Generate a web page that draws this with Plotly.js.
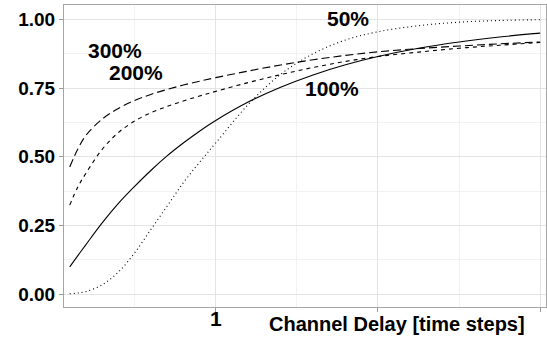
<!DOCTYPE html>
<html>
<head>
<meta charset="utf-8">
<script src="https://cdn.plot.ly/plotly-3.0.1.min.js"></script>
<style>html,body{margin:0;padding:0;background:#fff;}#chart{width:547px;height:341px;}</style>
</head>
<body>
<div id="chart"></div>
<script>
// Channel delay (time steps)
var delay = [0.1, 0.15, 0.2, 0.3, 0.4, 0.5, 0.6, 0.7, 0.8, 0.9, 1.0, 1.2, 1.4, 1.6, 1.8, 2.0, 2.25, 2.5, 2.75, 3.0];
// cumulative probability per delay variability level
var cv300 = [0.463, 0.528, 0.578, 0.637, 0.676, 0.705, 0.727, 0.745, 0.761, 0.775, 0.788, 0.812, 0.834, 0.853, 0.869, 0.882, 0.894, 0.903, 0.911, 0.918];
var cv200 = [0.324, 0.390, 0.440, 0.527, 0.588, 0.630, 0.660, 0.683, 0.703, 0.721, 0.738, 0.770, 0.799, 0.825, 0.847, 0.865, 0.881, 0.895, 0.906, 0.916];
var cv100 = [0.099, 0.140, 0.180, 0.259, 0.330, 0.392, 0.450, 0.503, 0.550, 0.593, 0.632, 0.699, 0.753, 0.798, 0.835, 0.865, 0.895, 0.918, 0.936, 0.950];
var cv50  = [0.001, 0.004, 0.009, 0.034, 0.080, 0.150, 0.235, 0.320, 0.405, 0.480, 0.550, 0.690, 0.800, 0.875, 0.925, 0.955, 0.977, 0.990, 0.996, 0.999];
var labels = ['300%', '200%', '100%', '50%'];
var labelX = [0.379, 0.506, 1.717, 1.813];
var labelY = [0.887, 0.808, 0.748, 1.0025];
var xTickVals = [1, 2, 3];
var xTickText = ['1', '', ''];
var yTickVals = [0, 0.25, 0.5, 0.75, 1.0];
var yTickText = ['0.00', '0.25', '0.50', '0.75', '1.00'];

var FONT = 'Liberation Sans, Arial, sans-serif';
function tr(y, dash) {
  return {x: delay, y: y, type: 'scatter', mode: 'lines',
    line: {color: '#000', width: 1.1, dash: dash, shape: 'spline', smoothing: 1},
    hoverinfo: 'skip', showlegend: false};
}
var data = [tr(cv300, '8px,4px'), tr(cv200, '4px,4px'), tr(cv100, 'solid'), tr(cv50, '1px,3px')];

var anns = labels.map(function (t, i) {
  return {x: labelX[i], y: labelY[i], xref: 'x', yref: 'y', text: t, showarrow: false,
    xanchor: 'center', yanchor: 'middle',
    font: {family: FONT, size: 21, color: '#000', weight: 'bold'}};
});
anns.push({x: (397 - 64) / 482, y: (307 - 323.5) / 302, xref: 'paper', yref: 'paper',
  text: 'Channel Delay [time steps]', showarrow: false,
  xanchor: 'center', yanchor: 'middle', font: {family: FONT, size: 20, color: '#000', weight: 'bold'}});

var layout = {
  width: 547, height: 341,
  margin: {l: 64, r: 1, t: 5, b: 34},
  paper_bgcolor: '#fff', plot_bgcolor: '#fff',
  showlegend: false,
  xaxis: {
    range: [0.0647, 3.036], tickmode: 'array', tickvals: xTickVals, ticktext: xTickText,
    ticks: 'outside', ticklen: 4, tickcolor: '#999', tickwidth: 1, ticklabelstandoff: -11,
    showgrid: true, gridcolor: '#e4e4e4', gridwidth: 1,
    minor: {tickmode: 'array', tickvals: [0.5, 1.5, 2.5], showgrid: true, gridcolor: '#f2f2f2', gridwidth: 1, ticks: ''},
    showline: true, linecolor: '#a6a6a6', linewidth: 1, mirror: true, zeroline: false,
    tickfont: {family: FONT, size: 21, color: '#000', weight: 'bold'}
  },
  yaxis: {
    range: [-0.047, 1.0525], tickmode: 'array', tickvals: yTickVals, ticktext: yTickText,
    ticks: 'outside', ticklen: 4, tickcolor: '#999', tickwidth: 1,
    showgrid: true, gridcolor: '#e4e4e4', gridwidth: 1,
    minor: {tickmode: 'array', tickvals: [0.125, 0.375, 0.625, 0.875], showgrid: true, gridcolor: '#f2f2f2', gridwidth: 1, ticks: ''},
    showline: true, linecolor: '#a6a6a6', linewidth: 1, mirror: true, zeroline: false,
    tickfont: {family: FONT, size: 19, color: '#000', weight: 'bold'}
  },
  annotations: anns
};
Plotly.newPlot('chart', data, layout, {staticPlot: true, displayModeBar: false});
</script>
</body>
</html>
